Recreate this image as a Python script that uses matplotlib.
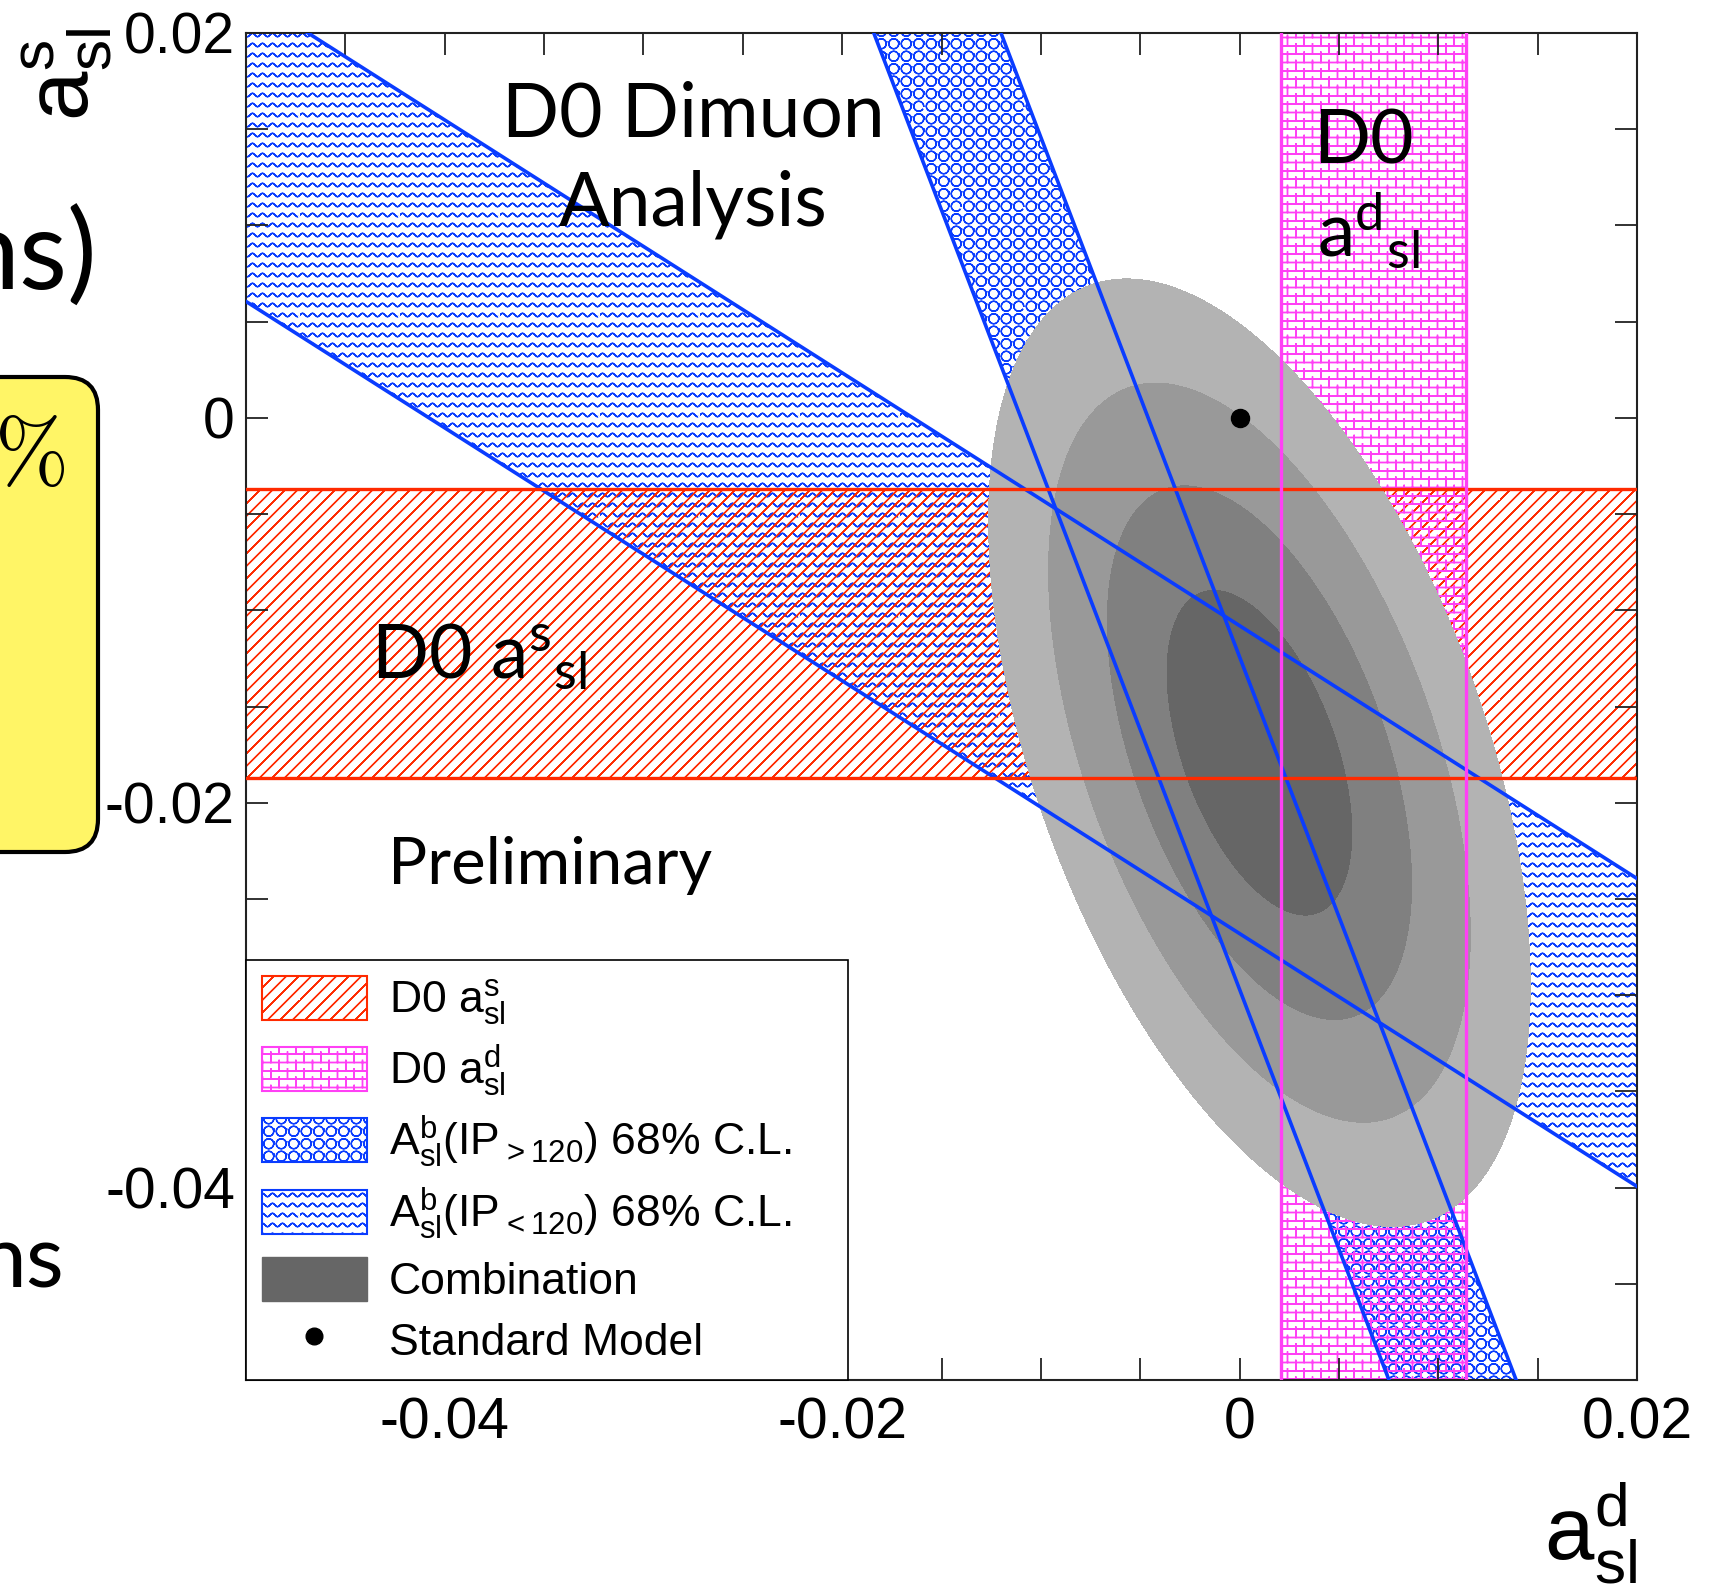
import numpy as np
import matplotlib
matplotlib.use("Agg")
import matplotlib.pyplot as plt
import matplotlib.hatch as mhatch
import matplotlib.transforms as mtransforms
from matplotlib.path import Path
from matplotlib.patches import Patch, FancyBboxPatch
from matplotlib.lines import Line2D
from matplotlib.ticker import FixedLocator, FuncFormatter

# values
as_band = [-0.0037, -0.0187]          # D0 a_sl^s, horizontal band
ad_band = [0.0021, 0.0114]            # D0 a_sl^d, vertical band
ip_hi_slope = -2.7                    # A_sl^b(IP>120) band, steep
ip_hi_c = [-0.0110, -0.0046]          # x where the edges cross y = 0
ip_lo_slope = -0.657                  # A_sl^b(IP<120) band, shallow
ip_lo_c = [-0.0108, -0.0268]          # y where the edges cross x = 0
comb_center = [0.0010, -0.0174]       # combination
comb_sigma = [0.0031, 0.0056]
comb_rho = -0.49
comb_levels = [2.30, 6.18, 11.83, 19.33]
comb_colors = ["#666666", "#808080", "#999999", "#b3b3b3"]
sm_point = [0.0, 0.0]

x_ticks = [-0.04, -0.02, 0, 0.02]
y_ticks = [-0.04, -0.02, 0, 0.02]
minor_ticks = [-0.05, -0.045, -0.04, -0.035, -0.03, -0.025, -0.02, -0.015,
               -0.01, -0.005, 0, 0.005, 0.01, 0.015, 0.02]

legend_labels = [r"D0 $\mathregular{a^{s}_{sl}}$",
                 r"D0 $\mathregular{a^{d}_{sl}}$",
                 r"$\mathregular{A^{b}_{sl}(IP_{>120})}$ 68% C.L.",
                 r"$\mathregular{A^{b}_{sl}(IP_{<120})}$ 68% C.L.",
                 "Combination",
                 "Standard Model"]

red = "#ff2a00"
mag = "#ff40f5"
blue = "#0a3cff"


# ROOT style fill patterns (waves, bricks, rings, slashes) as hatches
class RootHatch(mhatch.HatchPatternBase):
    key = ""

    def __init__(self, hatch, density):
        segs = self.lines() if self.key in hatch else []
        # go there and back so agg's fill of the hatch path stays empty
        self.segs = [np.concatenate([s, s[::-1]]) for s in segs]
        self.num_vertices = sum(len(s) for s in self.segs)

    def set_vertices_and_codes(self, vertices, codes):
        i = 0
        for s in self.segs:
            n = len(s)
            vertices[i:i + n] = s
            codes[i] = Path.MOVETO
            codes[i + 1:i + n] = Path.LINETO
            i += n


class Waves(RootHatch):
    key = "-"

    def lines(self):
        t = np.linspace(0, 1, 161)
        return [np.column_stack([t, (i + 0.5) / 10 + 0.017 * np.sin(20 * np.pi * t)])
                for i in range(10)]


class Bricks(RootHatch):
    key = "+"

    def lines(self):
        n, m = 12, 6
        segs = []
        for i in range(n):
            y = (i + 0.5) / n
            segs.append([[0, y], [1, y]])
            for j in range(m):
                x = (j + 0.25 + 0.5 * (i % 2)) / m
                y1 = y + 1.0 / n
                if y1 <= 1:
                    segs.append([[x, y], [x, y1]])
                else:
                    segs.append([[x, y], [x, 1]])
                    segs.append([[x, 0], [x, y1 - 1]])
        return [np.asarray(s, float) for s in segs]


class Rings(RootHatch):
    key = "o"

    def lines(self):
        n = 8
        a = np.linspace(0, 2 * np.pi, 17)
        r = 0.40 / n
        return [np.column_stack([(j + 0.5) / n + r * np.cos(a), (i + 0.5) / n + r * np.sin(a)])
                for i in range(n) for j in range(n)]


class Slashes(RootHatch):
    key = "/"

    def lines(self):
        n = 8
        return [np.array([[k / n, 0.0], [k / n + 1, 1.0]]) for k in range(-n, n)]


mhatch._hatch_types = [Waves, Bricks, Rings, Slashes]

plt.rcParams["font.family"] = ["Liberation Sans", "DejaVu Sans"]
plt.rcParams["hatch.linewidth"] = 1.0

W, H = 1715, 1590
fig = plt.figure(figsize=(W / 100, H / 100), dpi=100)
ax = fig.add_axes([246 / W, 1 - 1380 / H, 1391 / W, 1347 / H])
ax.set_xlim(-0.05, 0.02)
ax.set_ylim(-0.05, 0.02)

xs = np.array([-0.06, 0.03])
ys = np.array([-0.06, 0.03])

# hatched bands
ax.fill_between(xs, ip_lo_slope * xs + ip_lo_c[1], ip_lo_slope * xs + ip_lo_c[0],
                facecolor="none", edgecolor=blue, hatch="-", linewidth=0, zorder=1)
ax.fill_betweenx(ys, ip_hi_c[0] + ys / ip_hi_slope, ip_hi_c[1] + ys / ip_hi_slope,
                 facecolor="none", edgecolor=blue, hatch="o", linewidth=0, zorder=1)
ax.fill_between(xs, as_band[1], as_band[0],
                facecolor="none", edgecolor=red, hatch="/", linewidth=0, zorder=1)
ax.fill_betweenx(ys, ad_band[0], ad_band[1],
                 facecolor="none", edgecolor=mag, hatch="+", linewidth=0, zorder=1)

# combination contours
gx = np.linspace(-0.05, 0.02, 600)
gy = np.linspace(-0.05, 0.02, 600)
X, Y = np.meshgrid(gx, gy)
dx = (X - comb_center[0]) / comb_sigma[0]
dy = (Y - comb_center[1]) / comb_sigma[1]
chi2 = (dx ** 2 - 2 * comb_rho * dx * dy + dy ** 2) / (1 - comb_rho ** 2)
ax.contourf(X, Y, chi2, levels=[0] + comb_levels, colors=comb_colors, zorder=2)

# band edges
for c in ip_lo_c:
    ax.plot(xs, ip_lo_slope * xs + c, color=blue, lw=2.6, zorder=3)
for c in ip_hi_c:
    ax.plot(c + ys / ip_hi_slope, ys, color=blue, lw=2.6, zorder=3)
for y in as_band:
    ax.axhline(y, color=red, lw=2.4, zorder=3)
for x in ad_band:
    ax.axvline(x, color=mag, lw=2.4, zorder=3)

ax.plot(sm_point[0], sm_point[1], "o", color="black", ms=13, zorder=4)

# axes style
ax.xaxis.set_major_locator(FixedLocator(x_ticks))
ax.yaxis.set_major_locator(FixedLocator(y_ticks))
ax.xaxis.set_minor_locator(FixedLocator(minor_ticks))
ax.yaxis.set_minor_locator(FixedLocator(minor_ticks))
fmt = FuncFormatter(lambda v, p: "%g" % round(v, 4))
ax.xaxis.set_major_formatter(fmt)
ax.yaxis.set_major_formatter(fmt)
ax.tick_params(which="both", direction="in", top=True, right=True,
               length=16, width=1.3, color="#222222")
ax.tick_params(axis="x", which="major", labelsize=41, pad=12)
ax.tick_params(axis="y", which="major", labelsize=41, pad=8)
for s in ax.spines.values():
    s.set_linewidth(1.5)
    s.set_color("#222222")

ax.text(1.0, -0.1336, r"$\mathregular{a^{d}_{sl}}$", transform=ax.transAxes,
        ha="right", va="baseline", fontsize=64)
fig.text(20 / W, 1 - 28 / H, r"$\mathregular{a^{s}_{sl}}$", rotation=90,
         ha="left", va="top", fontsize=64)

# annotations
big = dict(family="Lato", fontsize=54, zorder=5)
ax.text(-0.0275, 0.0146, "D0 Dimuon", ha="center", va="baseline", **big)
ax.text(-0.0275, 0.0100, "Analysis", ha="center", va="baseline", **big)
ax.text(0.0037, 0.0132, "D0", ha="left", va="baseline", **big)
ax.text(0.0039, 0.0084, r"$\mathregular{a^{d}{}_{sl}}$", ha="left", va="baseline", **big)
ax.text(-0.0437, -0.0135, r"D0 $\mathregular{a^{s}{}_{sl}}$", ha="left", va="baseline", **big)
ax.text(-0.04285, -0.0242, "Preliminary", ha="left", va="baseline",
        family="Lato", fontsize=47, zorder=5)

# legend
handles = [Patch(facecolor="white", edgecolor=red, hatch="/", lw=1.5),
           Patch(facecolor="white", edgecolor=mag, hatch="+", lw=1.5),
           Patch(facecolor="white", edgecolor=blue, hatch="o", lw=1.5),
           Patch(facecolor="white", edgecolor=blue, hatch="-", lw=1.5),
           Patch(facecolor="#666666", edgecolor="#666666"),
           Line2D([], [], marker="o", ls="none", color="black", ms=12)]
leg = ax.legend(handles, legend_labels, loc="lower left",
                bbox_to_anchor=(0, 0, 0.433, 0.308), mode="expand",
                borderaxespad=0, fancybox=False, framealpha=1, edgecolor="black",
                fontsize=32, handlelength=2.36, handleheight=1.15,
                handletextpad=0.5, labelspacing=0.34, borderpad=0.36)
leg.get_frame().set_linewidth(1.2)
leg.set_zorder(6)

# remains of the slide around the plot
fig.text(97 / W, 1 - 290 / H, "ns)", ha="right", va="baseline", family="Lato", fontsize=80)
fig.text(65 / W, 1 - 1287 / H, "ns", ha="right", va="baseline", family="Lato", fontsize=63)
box = FancyBboxPatch((-60, H - 852), 158, 475, boxstyle="round,pad=0,rounding_size=33",
                     transform=mtransforms.IdentityTransform(), facecolor="#fff566",
                     edgecolor="black", linewidth=3)
fig.patches.append(box)
fig.text(-6 / W, 1 - 417 / H, r"$\%$", ha="left", va="top", fontsize=64, math_fontfamily="cm")

fig.savefig("out.png", dpi=100)
